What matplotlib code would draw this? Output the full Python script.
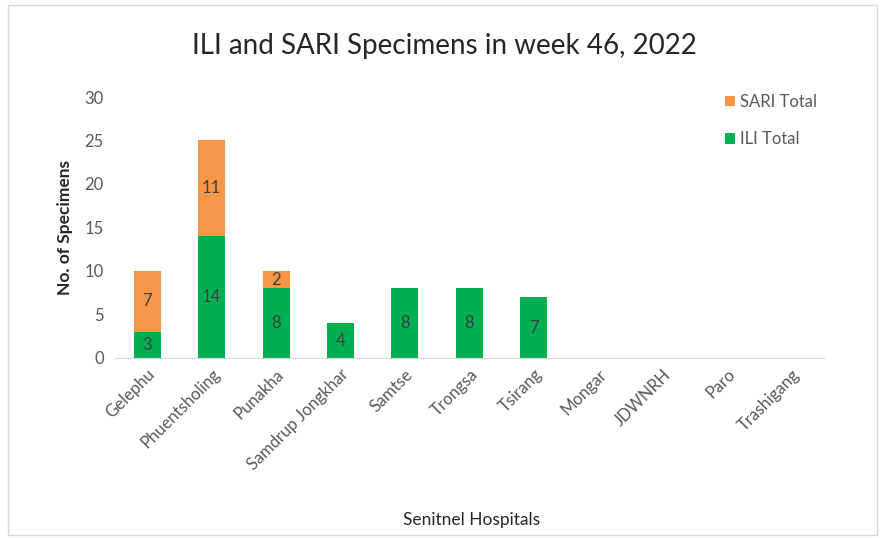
import numpy as np
from matplotlib import pyplot as plt
from matplotlib.patches import Rectangle

plt.rcParams['font.family'] = ['Lato', 'DejaVu Sans']

hospitals = ['Gelephu', 'Phuentsholing', 'Punakha', 'Samdrup Jongkhar', 'Samtse',
             'Trongsa', 'Tsirang', 'Mongar', 'JDWNRH', 'Paro', 'Trashigang']
ili_total = [3, 14, 8, 4, 8, 8, 7, 0, 0, 0, 0]
sari_total = [7, 11, 2, 0, 0, 0, 0, 0, 0, 0, 0]

green = '#00B050'
orange = '#F79646'
txt = '#595959'

fig = plt.figure(figsize=(8.84, 5.38), dpi=100)
fig.patches.append(Rectangle((0.009, 0.006), 0.983, 0.985, transform=fig.transFigure,
                             fill=False, edgecolor='#D9D9D9', linewidth=1))
ax = fig.add_axes([0.130, 0.3346, 0.802, 0.4851])

xs = np.arange(len(hospitals))
b1 = ax.bar(xs, ili_total, width=0.42, color=green, label='ILI Total')
b2 = ax.bar(xs, sari_total, width=0.42, bottom=ili_total, color=orange, label='SARI Total')

for i in range(len(hospitals)):
    if ili_total[i] > 0:
        ax.text(xs[i], ili_total[i] / 2, str(ili_total[i]), ha='center', va='center',
                fontsize=12, color='#404040')
    if sari_total[i] > 0:
        ax.text(xs[i], ili_total[i] + sari_total[i] / 2, str(sari_total[i]), ha='center',
                va='center', fontsize=12, color='#404040')

ax.set_xlim(-0.5, len(hospitals) - 0.5)
ax.set_ylim(0, 30)
ax.set_yticks(range(0, 31, 5))
ax.set_xticks(xs)
ax.set_xticklabels(hospitals, rotation=45, ha='right', rotation_mode='anchor')
ax.tick_params(axis='both', length=0, labelsize=12, labelcolor=txt)
ax.tick_params(axis='y', pad=8)
ax.tick_params(axis='x', pad=6)
for s in ['top', 'right', 'left']:
    ax.spines[s].set_visible(False)
ax.spines['bottom'].set_color('#D9D9D9')

fig.text(0.503, 0.915, 'ILI and SARI Specimens in week 46, 2022', ha='center', va='center',
         fontsize=20, color='#262626')
ax.set_ylabel('No. of Specimens', fontsize=12.5, fontweight='bold', color='#262626', labelpad=8)
fig.text(0.534, 0.024, 'Senitnel Hospitals', ha='center', fontsize=12.5, color='#262626')

leg = ax.legend(handles=[b2, b1], loc='upper left', bbox_to_anchor=(0.84, 1.07), frameon=False,
                fontsize=12, handlelength=0.6, handleheight=0.6, handletextpad=0.3,
                labelspacing=1.3)
for t in leg.get_texts():
    t.set_color(txt)

fig.savefig('out.png', dpi=100)
